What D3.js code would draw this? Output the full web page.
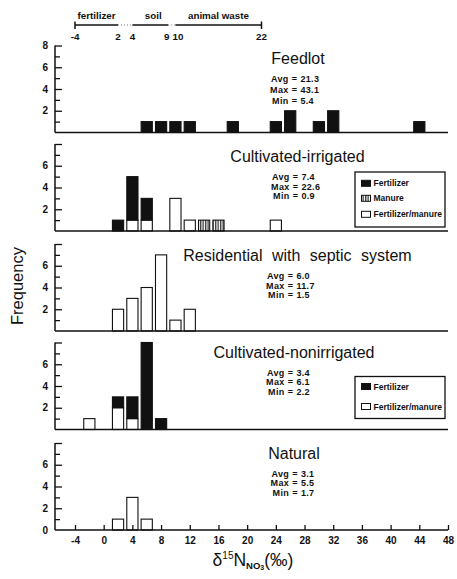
<!DOCTYPE html>
<html>
<head>
<meta charset="utf-8">
<script src="https://cdn.jsdelivr.net/npm/d3@7"></script>
<style>
  body { margin: 0; background: #fff; }
  svg { display: block; font-family: "Liberation Sans", Arial, Helvetica, sans-serif; }
  .small { font-size: 8.5px; font-weight: bold; fill: #111; }
  .stat { font-size: 9px; font-weight: bold; fill: #111; letter-spacing: 0.3px; }
  .src { font-size: 9.8px; font-weight: bold; fill: #111; }
  .tick text { font-family: "Liberation Sans", Arial, sans-serif; font-size: 10px; font-weight: bold; fill: #111; }
</style>
</head>
<body>
<script>
/* ---- data ---- */
var panelNames = ["Feedlot", "Cultivated-irrigated", "Residential with septic system", "Cultivated-nonirrigated", "Natural"];
var panelAvg = [21.3, 7.4, 6.0, 3.4, 3.1],
	panelMax = [43.1, 22.6, 11.7, 6.1, 5.5],
	panelMin = [5.4, 0.9, 1.5, 2.2, 1.7];

// bin centres (2 per mil wide bins) and counts
var feedlotBins = [6, 8, 10, 12, 18, 24, 26, 30, 32, 44],
	feedlotCounts = [1, 1, 1, 1, 1, 1, 2, 1, 2, 1];

var irrigBins = [2, 4, 6, 10, 12, 14, 16, 24],
	irrigFertManure = [0, 1, 1, 3, 1, 0, 0, 1],
	irrigManure = [0, 0, 0, 0, 0, 1, 1, 0],
	irrigFertilizer = [1, 4, 2, 0, 0, 0, 0, 0];

var residBins = [2, 4, 6, 8, 10, 12],
	residCounts = [2, 3, 4, 7, 1, 2];

var nonirrBins = [-2, 2, 4, 6, 8],
	nonirrFertManure = [1, 2, 1, 0, 0],
	nonirrFertilizer = [0, 1, 2, 8, 1];

var naturalBins = [2, 4, 6],
	naturalCounts = [1, 3, 1];

var xTicks = [-4, 0, 4, 8, 12, 16, 20, 24, 28, 32, 36, 40, 44, 48];

// source ranges shown above the chart
var sourceNames = ["fertilizer", "soil", "animal waste"],
	sourceRanges = [[-4, 2], [4, 9], [10, 22]],
	sourceLabels = [-4, 2, 4, 9, 10, 22];

var legendIrrig = ["Fertilizer", "Manure", "Fertilizer/manure"],
	legendNonirr = ["Fertilizer", "Fertilizer/manure"];

/* ---- layout ---- */
var width = 457, height = 579;
var axisLeftX = 55, axisRightX = 448;
var panelBase = [132.5, 231, 331, 429.5, 530];
var panelH = 87;
var barHalf = 0.78;

var x = d3.scaleLinear().domain([-4, 48]).range([75, 448]);

var fills = { solid: "#111", hatch: "url(#hatch)", open: "#fff" };
var legendStyle = { "Fertilizer": "solid", "Manure": "hatch", "Fertilizer/manure": "open" };

// layers listed bottom first
var panels = [
	{ bins: feedlotBins, layers: [{ style: "solid", counts: feedlotCounts }], yLabels: [2, 4, 6, 8] },
	{ bins: irrigBins, layers: [{ style: "open", counts: irrigFertManure }, { style: "hatch", counts: irrigManure }, { style: "solid", counts: irrigFertilizer }],
		yLabels: [2, 4, 6], legend: { items: legendIrrig, top: -59, h: 55, rows: [11.3, 26.3, 42.3] } },
	{ bins: residBins, layers: [{ style: "open", counts: residCounts }], yLabels: [2, 4, 6] },
	{ bins: nonirrBins, layers: [{ style: "open", counts: nonirrFertManure }, { style: "solid", counts: nonirrFertilizer }],
		yLabels: [2, 4, 6], legend: { items: legendNonirr, top: -53, h: 42, rows: [10, 30] } },
	{ bins: naturalBins, layers: [{ style: "open", counts: naturalCounts }], yLabels: [0, 2, 4, 6] }
];
var titleX = [298, 297.5, 297.5, 294, 294],
	titleDy = [-69, -69, -70, -71.5, -71],
	eqX = [294.5, 295.5, 290.5, 290.5, 295],
	statGap = [11, 9.6, 9.6, 9.4, 9.4];

var svg = d3.select("body").append("svg")
	.attr("width", width)
	.attr("height", height);

svg.append("rect").attr("width", width).attr("height", height).attr("fill", "#fff");

var pat = svg.append("defs").append("pattern")
	.attr("id", "hatch")
	.attr("patternUnits", "userSpaceOnUse")
	.attr("width", 2.5).attr("height", 4);
pat.append("rect").attr("width", 2.5).attr("height", 4).attr("fill", "#fff");
pat.append("line").attr("x1", 0.7).attr("x2", 0.7).attr("y1", 0).attr("y2", 4)
	.attr("stroke", "#111").attr("stroke-width", 1.1);

var hyphen = function(d) { return String(d); };

/* ---- panels ---- */
panels.forEach(function(p, i) {
	var base = panelBase[i];
	var y = d3.scaleLinear().domain([0, 8]).range([base, base - panelH]);
	var g = svg.append("g").attr("class", "panel");

	// bars, stacked
	p.bins.forEach(function(b, j) {
		var cum = 0;
		p.layers.forEach(function(l) {
			var c = l.counts[j];
			if (!c) return;
			g.append("rect")
				.attr("x", x(b - barHalf))
				.attr("width", x(b + barHalf) - x(b - barHalf))
				.attr("y", y(cum + c))
				.attr("height", y(cum) - y(cum + c))
				.attr("fill", fills[l.style])
				.attr("stroke", "#111")
				.attr("stroke-width", 1.1);
			cum += c;
		});
	});

	// baseline and y axis
	g.append("line").attr("x1", axisLeftX).attr("x2", axisRightX)
		.attr("y1", base).attr("y2", base)
		.attr("stroke", "#111").attr("stroke-width", 1.5);
	g.append("line").attr("x1", axisLeftX).attr("x2", axisLeftX)
		.attr("y1", base).attr("y2", y(8))
		.attr("stroke", "#111").attr("stroke-width", 1.5);

	var major = g.append("g").attr("transform", "translate(" + axisLeftX + ",0)")
		.call(d3.axisRight(y).tickValues([2, 4, 6, 8]).tickSize(7).tickFormat(""));
	var minor = g.append("g").attr("transform", "translate(" + axisLeftX + ",0)")
		.call(d3.axisRight(y).tickValues([1, 3, 5, 7]).tickSize(5).tickFormat(""));
	var labs = g.append("g").attr("transform", "translate(" + (axisLeftX - 7) + ",0)")
		.call(d3.axisLeft(y).tickValues(p.yLabels).tickSize(0).tickPadding(0).tickFormat(hyphen));
	[major, minor, labs].forEach(function(a) {
		a.select(".domain").remove();
		a.selectAll("line").attr("stroke", "#111").attr("stroke-width", 1.3);
	});

	// title and stats
	var ty = base + titleDy[i];
	g.append("text")
		.attr("x", titleX[i]).attr("y", ty)
		.attr("text-anchor", "middle")
		.attr("font-size", "16px")
		.attr("word-spacing", i == 2 ? "5px" : null)
		.attr("fill", "#111")
		.text(panelNames[i]);

	var stats = [["Avg", panelAvg[i]], ["Max", panelMax[i]], ["Min", panelMin[i]]];
	stats.forEach(function(s, k) {
		var sy = ty + 18 + k * statGap[i];
		g.append("text").attr("class", "stat").attr("x", eqX[i] - 6).attr("y", sy)
			.attr("text-anchor", "end").text(s[0]);
		g.append("text").attr("class", "stat").attr("x", eqX[i]).attr("y", sy)
			.attr("text-anchor", "middle").text("=");
		g.append("text").attr("class", "stat").attr("x", eqX[i] + 6).attr("y", sy)
			.text(s[1].toFixed(1));
	});

	// legend
	if (p.legend) {
		var L = p.legend;
		var lg = g.append("g").attr("transform", "translate(355," + (base + L.top) + ")");
		lg.append("rect").attr("width", 90).attr("height", L.h)
			.attr("fill", "#fff").attr("stroke", "#111").attr("stroke-width", 1.3);
		L.items.forEach(function(name, k) {
			lg.append("rect").attr("x", 6.5).attr("y", L.rows[k] - 3).attr("width", 9).attr("height", 6)
				.attr("fill", fills[legendStyle[name]]).attr("stroke", "#111").attr("stroke-width", 1);
			lg.append("text").attr("class", "small").attr("x", 18.5).attr("y", L.rows[k] + 3).text(name);
		});
	}

	// x axis ticks on the bottom panel
	if (i == panels.length - 1) {
		var xa = g.append("g").attr("transform", "translate(0," + base + ")")
			.call(d3.axisBottom(x).tickValues(xTicks).tickSize(-5).tickPadding(7).tickFormat(hyphen));
		xa.select(".domain").remove();
		xa.selectAll("line").attr("stroke", "#111").attr("stroke-width", 1.3);
	}
});

/* ---- source ranges on top ---- */
var srcG = svg.append("g");
sourceRanges.forEach(function(r, i) {
	srcG.append("line").attr("x1", x(r[0])).attr("x2", x(r[1]))
		.attr("y1", 25).attr("y2", 25)
		.attr("stroke", "#111").attr("stroke-width", 1.5);
	srcG.append("text").attr("class", "src")
		.attr("x", (x(r[0]) + x(r[1])) / 2 + (i == 1 ? 3 : 0)).attr("y", 19)
		.attr("text-anchor", "middle").text(sourceNames[i]);
	if (i < sourceRanges.length - 1) {
		srcG.append("line").attr("x1", x(r[1])).attr("x2", x(sourceRanges[i + 1][0]))
			.attr("y1", 25).attr("y2", 25)
			.attr("stroke", "#777").attr("stroke-width", 1).attr("stroke-dasharray", "1,2");
	}
});
[sourceRanges[0][0], sourceRanges[sourceRanges.length - 1][1]].forEach(function(v) {
	srcG.append("line").attr("x1", x(v)).attr("x2", x(v)).attr("y1", 21.5).attr("y2", 29)
		.attr("stroke", "#111").attr("stroke-width", 1.5);
});
// "9" and "10" sit close together, so nudge them apart
srcG.selectAll(".srcnum").data(sourceLabels).enter().append("text")
	.attr("class", "src srcnum")
	.attr("x", function(d) { return x(d) + (d == 9 ? -1.5 : d == 10 ? 2.5 : 0); })
	.attr("y", 40)
	.attr("text-anchor", "middle")
	.text(function(d) { return d; });

/* ---- axis titles ---- */
svg.append("text")
	.attr("transform", "translate(23,286) rotate(-90)")
	.attr("text-anchor", "middle")
	.attr("font-size", "16.5px")
	.attr("fill", "#111")
	.text("Frequency");

var xt = svg.append("text")
	.attr("x", 253).attr("y", 566)
	.attr("text-anchor", "middle")
	.attr("font-size", "17.5px")
	.attr("fill", "#111");
xt.append("tspan").text("δ");
xt.append("tspan").attr("font-size", "10px").attr("dy", -7).text("15");
xt.append("tspan").attr("dy", 7).text("N");
xt.append("tspan").attr("font-size", "9.5px").attr("font-weight", "bold").attr("dy", 3).text("NO");
xt.append("tspan").attr("font-size", "7px").attr("font-weight", "bold").attr("dy", 1).text("3");
xt.append("tspan").attr("dy", -4).text("(‰)");
</script>
</body>
</html>
